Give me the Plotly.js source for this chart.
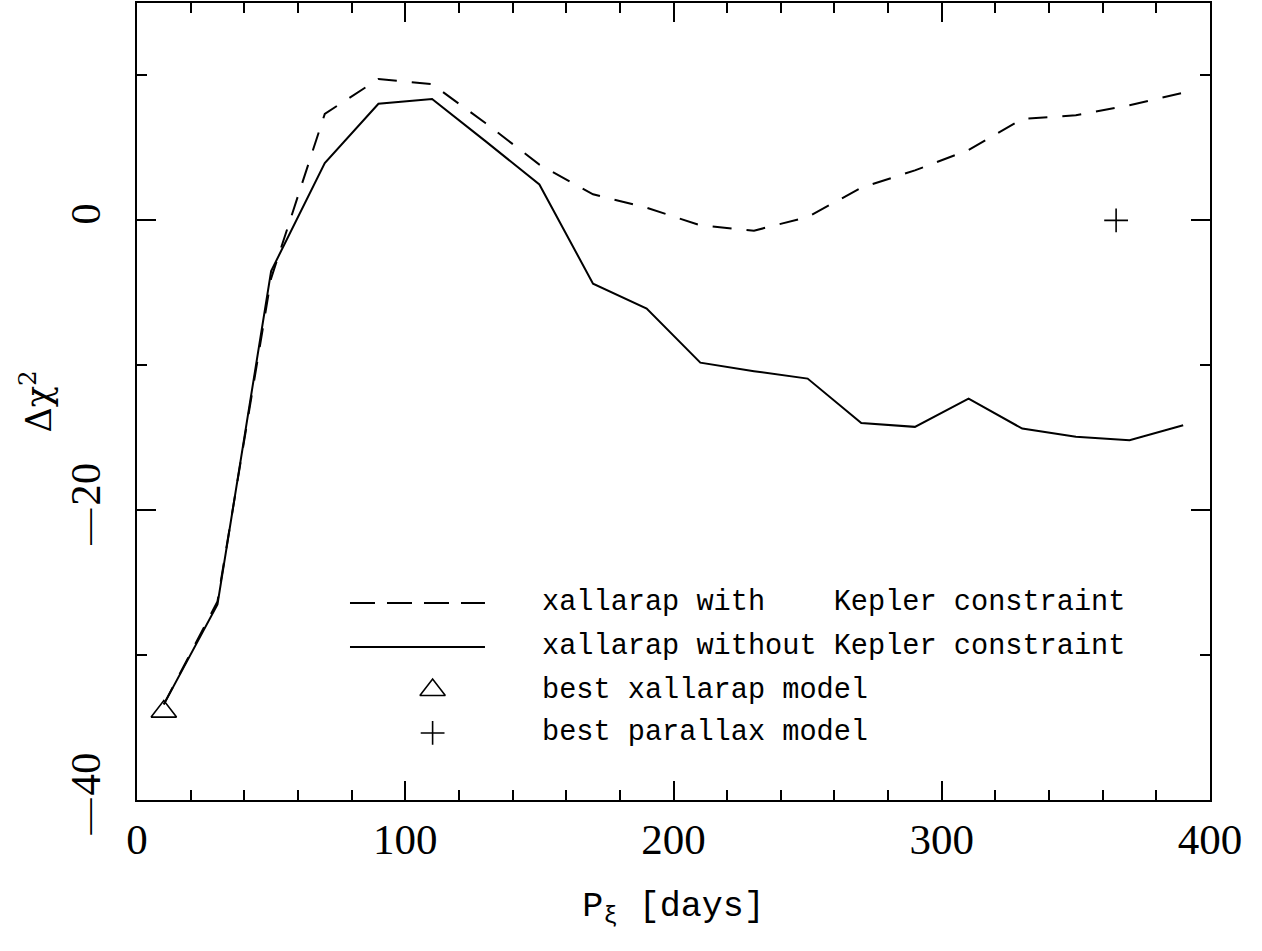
<!DOCTYPE html>
<html>
<head>
<meta charset="utf-8">
<script src="https://cdn.plot.ly/plotly-3.0.1.min.js"></script>
<style>
  html, body { margin: 0; padding: 0; background: #fff; }
  #chart { width: 1262px; height: 951px; }
</style>
</head>
<body>
<div id="chart"></div>
<script>
// Period P_xi [days]
const periods = [10, 30, 50, 70, 90, 110, 130, 150, 170, 190, 210, 230, 250, 270, 290, 310, 330, 350, 370, 390];
// Delta chi^2, xallarap with Kepler constraint (dashed)
const dchi2WithKepler = [-33.4, -26.3, -4.0, 7.35, 9.75, 9.4, 6.7, 3.85, 1.8, 0.87, -0.34, -0.71, 0.23, 2.25, 3.45, 4.85, 7.0, 7.25, 7.95, 8.8];
// Delta chi^2, xallarap without Kepler constraint (solid)
const dchi2WithoutKepler = [-33.4, -26.5, -3.5, 3.95, 8.05, 8.37, 5.45, 2.48, -4.37, -6.09, -9.82, -10.41, -10.92, -13.98, -14.25, -12.3, -14.37, -14.94, -15.17, -14.14];
// best models
const bestXallarapP = [10];
const bestXallarapChi = [-33.9];
const bestParallaxP = [365];
const bestParallaxChi = [0];
// tick labels
const xTickVals = [0, 100, 200, 300, 400];
const xTickText = ["0", "100", "200", "300", "400"];
const yTickVals = [-40, -20, 0];
const LONG_MINUS = '<span style="font-size:36px">\u2014\u200A</span>';
const yTickText = [LONG_MINUS + "40", LONG_MINUS + "20", "0"];
// legend labels (monospaced so that "Kepler" lines up)
const legendLabels = [
  "xallarap with\u00A0\u00A0\u00A0\u00A0Kepler constraint",
  "xallarap without Kepler constraint",
  "best xallarap model",
  "best parallax model"
];

const SERIF = "Liberation Serif, Times New Roman, serif";
const DSERIF = "DejaVu Serif, serif";
const MONO = "Liberation Mono, Courier New, monospace";

// legend layout (paper fractions)
const rowY = [0.2472, 0.192, 0.138, 0.0841];
const keyX0 = 0.1985, keyX1 = 0.3243, keyMid = 0.2755, textX = 0.3756;

const triMarker = { symbol: "triangle-up-open", size: 22, color: "#000", line: { color: "#000", width: 1.6 } };
const plusMarker = { symbol: "cross-thin-open", size: 17, color: "#000", line: { color: "#000", width: 1.6 } };

const traces = [
  { x: periods, y: dchi2WithKepler, mode: "lines", type: "scatter",
    line: { color: "#000", width: 2, dash: "19px,15px" }, showlegend: false, hoverinfo: "skip" },
  { x: periods, y: dchi2WithoutKepler, mode: "lines", type: "scatter",
    line: { color: "#000", width: 2 }, showlegend: false, hoverinfo: "skip" },
  { x: bestXallarapP, y: bestXallarapChi, mode: "markers", type: "scatter",
    marker: triMarker, showlegend: false, hoverinfo: "skip" },
  { x: bestParallaxP, y: bestParallaxChi, mode: "markers", type: "scatter",
    marker: plusMarker, showlegend: false, hoverinfo: "skip" },
  // legend keys for the markers on an overlay axis in [0,1]
  { x: [keyMid], y: [rowY[2]], xaxis: "x2", yaxis: "y2", mode: "markers", type: "scatter",
    marker: triMarker, showlegend: false, hoverinfo: "skip" },
  { x: [keyMid], y: [rowY[3]], xaxis: "x2", yaxis: "y2", mode: "markers", type: "scatter",
    marker: plusMarker, showlegend: false, hoverinfo: "skip" }
];

const annText = (x, y, t) => ({ xref: "paper", yref: "paper", x: x, y: y, text: t, showarrow: false,
  xanchor: "left", yanchor: "middle", font: { family: MONO, size: 28.6, color: "#000" } });

const layout = {
  width: 1262, height: 951,
  margin: { l: 137, r: 52, t: 3, b: 151 },
  paper_bgcolor: "#fff", plot_bgcolor: "#fff",
  showlegend: false,
  xaxis: {
    range: [0, 400], showgrid: false, zeroline: false,
    showline: true, linecolor: "#000", linewidth: 2, mirror: "ticks",
    ticks: "inside", ticklen: 19, tickwidth: 2, tickcolor: "#000",
    tickmode: "array", tickvals: xTickVals, ticktext: xTickText,
    minor: { dtick: 20, tick0: 0, ticks: "inside", ticklen: 10, tickwidth: 2, tickcolor: "#000", showgrid: false },
    tickfont: { family: SERIF, size: 43, color: "#000" },
    ticklabelstandoff: 0,
    title: { text: "P<sub>ξ</sub> [days]", font: { family: MONO, size: 35, color: "#000" }, standoff: 30 }
  },
  yaxis: {
    range: [-40, 15], showgrid: false, zeroline: false,
    showline: true, linecolor: "#000", linewidth: 2, mirror: "ticks",
    ticks: "inside", ticklen: 19, tickwidth: 2, tickcolor: "#000",
    tickmode: "array", tickvals: yTickVals, ticktext: yTickText, tickangle: -90,
    minor: { dtick: 10, tick0: 0, ticks: "inside", ticklen: 10, tickwidth: 2, tickcolor: "#000", showgrid: false },
    tickfont: { family: SERIF, size: 43, color: "#000" },
    ticklabelstandoff: 18,
    title: { text: "Δχ<sup>2</sup>", font: { family: DSERIF, size: 35, color: "#000" }, standoff: 0 }
  },
  xaxis2: { overlaying: "x", range: [0, 1], visible: false, fixedrange: true },
  yaxis2: { overlaying: "y", range: [0, 1], visible: false, fixedrange: true },
  shapes: [
    { type: "line", xref: "paper", yref: "paper", x0: keyX0, x1: keyX1, y0: rowY[0], y1: rowY[0],
      line: { color: "#000", width: 2, dash: "25px,12px" } },
    { type: "line", xref: "paper", yref: "paper", x0: keyX0, x1: keyX1, y0: rowY[1], y1: rowY[1],
      line: { color: "#000", width: 2 } }
  ],
  annotations: legendLabels.map((t, i) => annText(textX, rowY[i], t))
};

Plotly.newPlot("chart", traces, layout, { staticPlot: true, displayModeBar: false });
</script>
</body>
</html>
